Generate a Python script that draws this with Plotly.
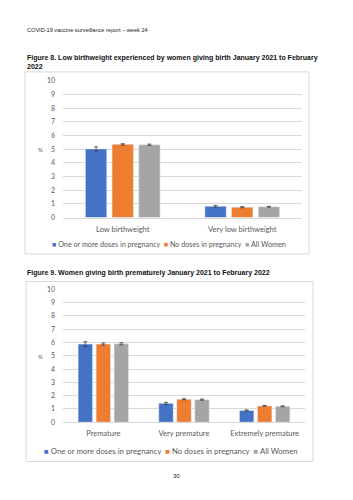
import plotly.graph_objects as go

W, H = 353, 500

series = ["One or more doses in pregnancy", "No doses in pregnancy", "All Women"]
colors = ["#4472C4", "#ED7D31", "#A5A5A5"]

# Figure 8
cats8 = ["Low birthweight", "Very low birthweight"]
vals8 = [[5.02, 0.82], [5.35, 0.76], [5.32, 0.79]]
err8 = [[0.15, 0.07], [0.05, 0.04], [0.05, 0.03]]

# Figure 9
cats9 = ["Premature", "Very premature", "Extremely premature"]
vals9 = [[5.88, 1.42, 0.88], [5.88, 1.73, 1.23], [5.9, 1.70, 1.20]]
err9 = [[0.18, 0.08, 0.05], [0.08, 0.04, 0.03], [0.08, 0.04, 0.03]]

yticks = list(range(0, 11))

header = "COVID-19 vaccine surveillance report – week 24"
title8 = "Figure 8. Low birthweight experienced by women giving birth January 2021 to February<br>2022"
title9 = "Figure 9. Women giving birth prematurely January 2021 to February 2022"
page_no = "30"

def px(x):
    return x / W

def py(y):
    return 1 - y / H

fig = go.Figure()
for i, s in enumerate(series):
    fig.add_trace(go.Bar(
        x=cats8, y=vals8[i], name=s, marker_color=colors[i], showlegend=False,
        xaxis="x", yaxis="y",
        error_y=dict(type="data", array=err8[i], color="#404040", thickness=0.8, width=2),
    ))
for i, s in enumerate(series):
    fig.add_trace(go.Bar(
        x=cats9, y=vals9[i], name=s, marker_color=colors[i], showlegend=False,
        xaxis="x2", yaxis="y2",
        error_y=dict(type="data", array=err9[i], color="#404040", thickness=0.8, width=2),
    ))

tickfont = dict(family="Lato, Liberation Sans, sans-serif", size=7, color="#595959")
catfont = dict(family="Lato, Liberation Sans, sans-serif", size=7.5, color="#595959")

fig.update_layout(
    width=W, height=H, margin=dict(l=0, r=0, t=0, b=0),
    paper_bgcolor="white", plot_bgcolor="white",
    barmode="group", bargap=0.33, bargroupgap=0.2,
    xaxis=dict(domain=[px(63), px(302)], anchor="y", tickfont=catfont, showline=True,
               linecolor="#D9D9D9", linewidth=1, ticks="", ticklabelstandoff=4),
    yaxis=dict(domain=[py(216), py(77)], anchor="x", range=[0, 10], tickvals=yticks,
               tickfont=tickfont, gridcolor="#D9D9D9", gridwidth=0.8, zeroline=False,
               ticklabelstandoff=7),
    xaxis2=dict(domain=[px(63), px(305)], anchor="y2", tickfont=catfont, showline=True,
                linecolor="#D9D9D9", linewidth=1, ticks="", ticklabelstandoff=4),
    yaxis2=dict(domain=[py(424), py(289)], anchor="x2", range=[0, 10], tickvals=yticks,
                tickfont=tickfont, gridcolor="#D9D9D9", gridwidth=0.8, zeroline=False,
                ticklabelstandoff=7),
    shapes=[
        dict(type="rect", xref="paper", yref="paper", x0=px(25), x1=px(309), y0=py(253), y1=py(68),
             line=dict(color="#D9D9D9", width=1), layer="below"),
        dict(type="rect", xref="paper", yref="paper", x0=px(26), x1=px(313), y0=py(464), y1=py(281),
             line=dict(color="#D9D9D9", width=1), layer="below"),
    ],
)

ann = []
ann.append(dict(text=header, x=px(25), y=py(25), xanchor="left", yanchor="middle",
                font=dict(family="Liberation Sans, Arial", size=5.6, color="#222222")))
ann.append(dict(text="<b>" + title8.replace("<br>", "</b><br><b>") + "</b>", x=px(25), y=py(48),
                xanchor="left", yanchor="top", align="left",
                font=dict(family="Liberation Sans, Arial", size=7, color="#111111")))
ann.append(dict(text="<b>" + title9 + "</b>", x=px(25), y=py(272), xanchor="left", yanchor="middle",
                align="left", font=dict(family="Liberation Sans, Arial", size=7, color="#111111")))
ann.append(dict(text=page_no, x=px(176), y=py(479), xanchor="center", yanchor="middle",
                font=dict(family="Liberation Sans, Arial", size=6, color="#222222")))
ann.append(dict(text="%", x=px(40), y=py(147), xanchor="center", yanchor="middle",
                font=dict(family="Lato, sans-serif", size=6, color="#595959")))
ann.append(dict(text="%", x=px(40), y=py(357), xanchor="center", yanchor="middle",
                font=dict(family="Lato, sans-serif", size=6, color="#595959")))

def legend_text():
    parts = []
    for s, c in zip(series, colors):
        parts.append('<span style="color:%s">■</span> %s' % (c, s))
    return "  ".join(parts)

ann.append(dict(text=legend_text(), x=px(169), y=py(243), xanchor="center", yanchor="middle",
                font=dict(family="Lato, sans-serif", size=7.2, color="#595959")))
ann.append(dict(text=legend_text(), x=px(170.5), y=py(453), xanchor="center", yanchor="middle",
                font=dict(family="Lato, sans-serif", size=7.8, color="#595959")))

for a in ann:
    a.update(xref="paper", yref="paper", showarrow=False)
fig.update_layout(annotations=ann)

fig.write_html("out.html")
